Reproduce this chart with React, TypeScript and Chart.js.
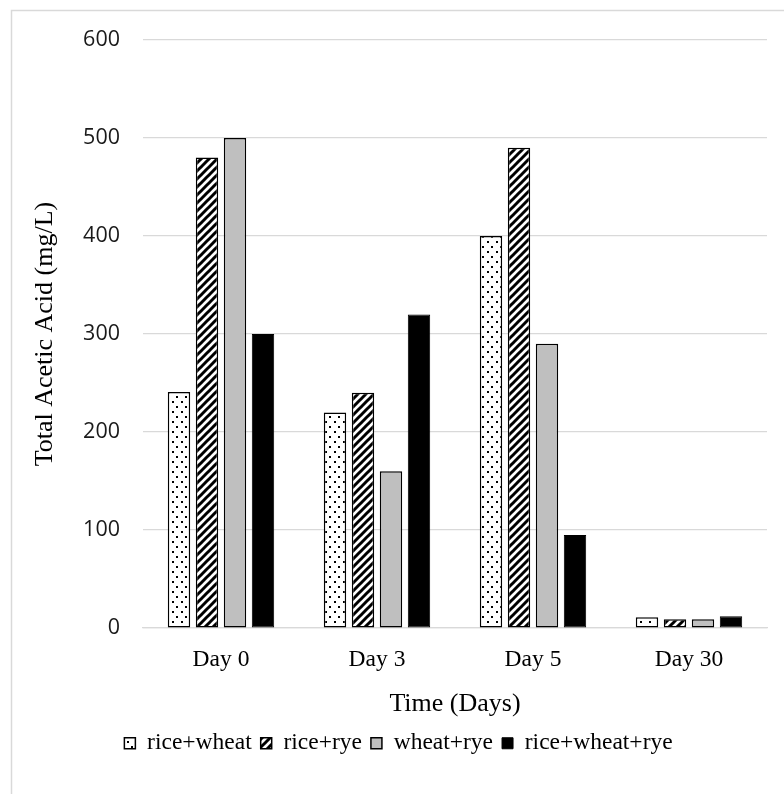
import React, { useEffect, useRef } from "react";
import { Chart, registerables } from "chart.js";

Chart.register(...registerables);

// Sampling days and measured total acetic acid (mg/L) per grain blend
const categories = ["Day 0", "Day 3", "Day 5", "Day 30"];
const riceWheat = [241, 220, 400, 11];
const riceRye = [480, 240, 490, 9];
const wheatRye = [500, 160, 290, 9];
const riceWheatRye = [300, 320, 95, 12];
const seriesNames = ["rice+wheat", "rice+rye", "wheat+rye", "rice+wheat+rye"];

const yMin = 0;
const yMax = 600;
const yStep = 100;

const SERIF = "'Liberation Serif', 'Times New Roman', serif";
const SANS = "'Open Sans', 'Liberation Sans', sans-serif";

// Sparse dotted fill
function dotPattern(ctx: CanvasRenderingContext2D): CanvasPattern {
  const c = document.createElement("canvas");
  c.width = 9;
  c.height = 10;
  const g = c.getContext("2d")!;
  g.fillStyle = "#ffffff";
  g.fillRect(0, 0, 9, 10);
  g.fillStyle = "#000000";
  g.fillRect(1, 1, 2, 2);
  g.fillRect(5, 6, 2, 2);
  return ctx.createPattern(c, "repeat")!;
}

// Wide upward diagonal stripes
function stripePattern(ctx: CanvasRenderingContext2D): CanvasPattern {
  const s = 8;
  const c = document.createElement("canvas");
  c.width = s;
  c.height = s;
  const g = c.getContext("2d")!;
  g.fillStyle = "#ffffff";
  g.fillRect(0, 0, s, s);
  g.strokeStyle = "#000000";
  g.lineWidth = 3;
  g.lineCap = "square";
  for (const n of [0, 1, 2]) {
    g.beginPath();
    g.moveTo(-2, n * s + 2);
    g.lineTo(n * s + 2, -2);
    g.stroke();
  }
  return ctx.createPattern(c, "repeat")!;
}

// White background and thin frame around the chart
const framePlugin = {
  id: "frame",
  beforeDraw(chart: Chart) {
    const { ctx, width, height } = chart;
    ctx.save();
    ctx.fillStyle = "#ffffff";
    ctx.fillRect(0, 0, width, height);
    ctx.strokeStyle = "#d9d9d9";
    ctx.lineWidth = 1.5;
    ctx.strokeRect(11.5, 10.5, width + 20, height + 20);
    ctx.restore();
  },
};

export default function App() {
  const ref = useRef<HTMLCanvasElement | null>(null);

  useEffect(() => {
    const canvas = ref.current!;
    const ctx = canvas.getContext("2d")!;
    const dots = dotPattern(ctx);
    const stripes = stripePattern(ctx);

    const chart = new Chart(canvas, {
      type: "bar",
      data: {
        labels: categories,
        datasets: [
          { label: seriesNames[0], data: riceWheat, backgroundColor: dots, borderColor: "#000", borderWidth: 1.5 },
          { label: seriesNames[1], data: riceRye, backgroundColor: stripes, borderColor: "#000", borderWidth: 1.5 },
          { label: seriesNames[2], data: wheatRye, backgroundColor: "#bfbfbf", borderColor: "#000", borderWidth: 1.5 },
          { label: seriesNames[3], data: riceWheatRye, backgroundColor: "#000000", borderColor: "#000", borderWidth: 1 },
        ],
      },
      options: {
        responsive: false,
        animation: false,
        datasets: {
          bar: { categoryPercentage: 0.718, barPercentage: 0.8, borderSkipped: false },
        },
        layout: { padding: { left: 30, top: 40, right: 17, bottom: 29 } },
        plugins: {
          tooltip: { enabled: false },
          legend: {
            position: "bottom",
            labels: {
              boxWidth: 11,
              boxHeight: 11,
              padding: 9,
              color: "#000",
              font: { family: SERIF, size: 23.5 },
            },
          },
        },
        scales: {
          x: {
            grid: { display: false },
            border: { display: true, color: "#d9d9d9", width: 1.3 },
            ticks: { color: "#000", font: { family: SERIF, size: 23.5 }, padding: 10 },
            title: {
              display: true,
              text: "Time (Days)",
              color: "#000",
              font: { family: SERIF, size: 26 },
              padding: { top: 4, bottom: 3 },
            },
          },
          y: {
            min: yMin,
            max: yMax,
            afterFit(scale: any) {
              scale.width = 113;
            },
            grid: { color: "#d9d9d9", lineWidth: 1.3, drawTicks: false },
            border: { display: false },
            ticks: {
              stepSize: yStep,
              color: "#1a1a1a",
              padding: 23,
              font: { family: SANS, size: 21.5 },
            },
            title: {
              display: true,
              text: "Total Acetic Acid (mg/L)",
              color: "#000",
              font: { family: SERIF, size: 26 },
              padding: 0,
            },
          },
        },
      },
      plugins: [framePlugin],
    });
    return () => chart.destroy();
  }, []);

  return (
    <div style={{ position: "absolute", left: 0, top: 0, width: 784, height: 794 }}>
      <canvas ref={ref} width={784} height={794} />
    </div>
  );
}
